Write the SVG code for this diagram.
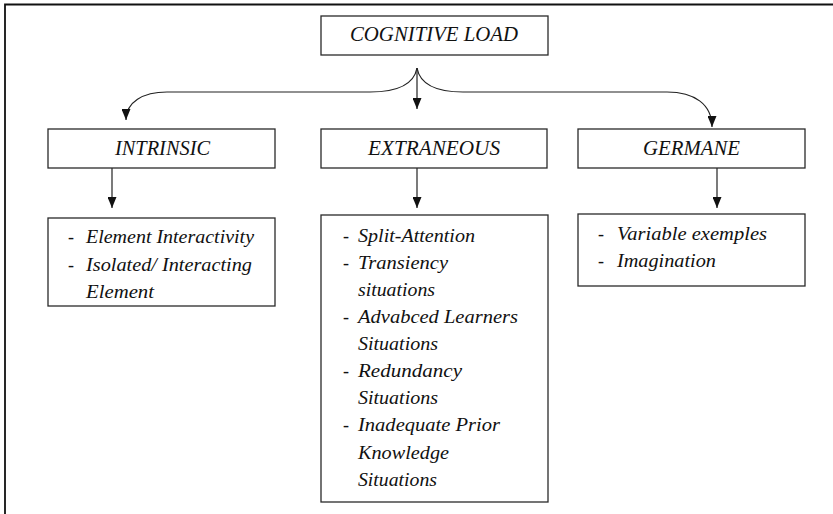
<svg xmlns="http://www.w3.org/2000/svg" width="833" height="514" viewBox="0 0 833 514">
<style>
.box{fill:#fff;stroke:#2a2a2a;stroke-width:1.3}
.t{font-family:"Liberation Serif","Times New Roman",serif;font-style:italic;fill:#111}
.h{font-size:20px;text-anchor:middle}
.l{font-size:18px}
.c{fill:none;stroke:#222;stroke-width:1.2}
</style>
<defs>
<marker id="ah" markerUnits="userSpaceOnUse" markerWidth="11" markerHeight="9" refX="11" refY="4.5" orient="auto">
<path d="M0,0 L11,4.5 L0,9 z" fill="#111"/>
</marker>
</defs>
<rect x="0" y="0" width="833" height="514" fill="#fff"/>
<path d="M5,514 V4.5 H833" fill="none" stroke="#111" stroke-width="1.8"/>
<g id="connectors">
<path class="c" d="M417,68 C414,84 398,92 370,92 L167,92 C143,92 126,102 126,120" marker-end="url(#ah)"/>
<path class="c" d="M417,68 C420,84 436,92 463,92 L667,92 C694,92 712,104 712,127" marker-end="url(#ah)"/>
<path class="c" d="M417,68 V109" marker-end="url(#ah)"/>
<path class="c" d="M112,168 V208" marker-end="url(#ah)"/>
<path class="c" d="M417,168 V208" marker-end="url(#ah)"/>
<path class="c" d="M717,168 V208" marker-end="url(#ah)"/>
</g>
<g id="cognitive-load">
<rect class="box" x="321" y="16" width="227" height="39"/>
<text class="t h" x="434" y="41" textLength="168" lengthAdjust="spacingAndGlyphs">COGNITIVE LOAD</text>
</g>
<g id="intrinsic">
<rect class="box" x="48" y="129" width="227" height="39"/>
<text class="t h" x="162.5" y="155" textLength="95" lengthAdjust="spacingAndGlyphs">INTRINSIC</text>
</g>
<g id="extraneous">
<rect class="box" x="321" y="129" width="226" height="39"/>
<text class="t h" x="434" y="155" textLength="132" lengthAdjust="spacingAndGlyphs">EXTRANEOUS</text>
</g>
<g id="germane">
<rect class="box" x="578" y="129" width="227" height="39"/>
<text class="t h" x="691.5" y="155" textLength="97" lengthAdjust="spacingAndGlyphs">GERMANE</text>
</g>
<g id="intrinsic-list">
<rect class="box" x="48" y="218" width="227" height="88"/>
<text class="t l" x="68" y="243">-</text>
<text class="t l" x="86" y="243" textLength="168" lengthAdjust="spacingAndGlyphs">Element Interactivity</text>
<text class="t l" x="68" y="271">-</text>
<text class="t l" x="86" y="271" textLength="166" lengthAdjust="spacingAndGlyphs">Isolated/ Interacting</text>
<text class="t l" x="86" y="298" textLength="68" lengthAdjust="spacingAndGlyphs">Element</text>
</g>
<g id="extraneous-list">
<rect class="box" x="321" y="215" width="227" height="287"/>
<text class="t l" x="343" y="242">-</text>
<text class="t l" x="358" y="242" textLength="117" lengthAdjust="spacingAndGlyphs">Split-Attention</text>
<text class="t l" x="343" y="269">-</text>
<text class="t l" x="358" y="269" textLength="90" lengthAdjust="spacingAndGlyphs">Transiency</text>
<text class="t l" x="358" y="296" textLength="77" lengthAdjust="spacingAndGlyphs">situations</text>
<text class="t l" x="343" y="323">-</text>
<text class="t l" x="358" y="323" textLength="160" lengthAdjust="spacingAndGlyphs">Advabced Learners</text>
<text class="t l" x="358" y="350" textLength="80" lengthAdjust="spacingAndGlyphs">Situations</text>
<text class="t l" x="343" y="377">-</text>
<text class="t l" x="358" y="377" textLength="104" lengthAdjust="spacingAndGlyphs">Redundancy</text>
<text class="t l" x="358" y="404" textLength="80" lengthAdjust="spacingAndGlyphs">Situations</text>
<text class="t l" x="343" y="431">-</text>
<text class="t l" x="358" y="431" textLength="142" lengthAdjust="spacingAndGlyphs">Inadequate Prior</text>
<text class="t l" x="358" y="459" textLength="91" lengthAdjust="spacingAndGlyphs">Knowledge</text>
<text class="t l" x="358" y="486" textLength="79" lengthAdjust="spacingAndGlyphs">Situations</text>
</g>
<g id="germane-list">
<rect class="box" x="578" y="214" width="227" height="72"/>
<text class="t l" x="598" y="240">-</text>
<text class="t l" x="617" y="240" textLength="150" lengthAdjust="spacingAndGlyphs">Variable exemples</text>
<text class="t l" x="598" y="267">-</text>
<text class="t l" x="617" y="267" textLength="99" lengthAdjust="spacingAndGlyphs">Imagination</text>
</g>
</svg>
